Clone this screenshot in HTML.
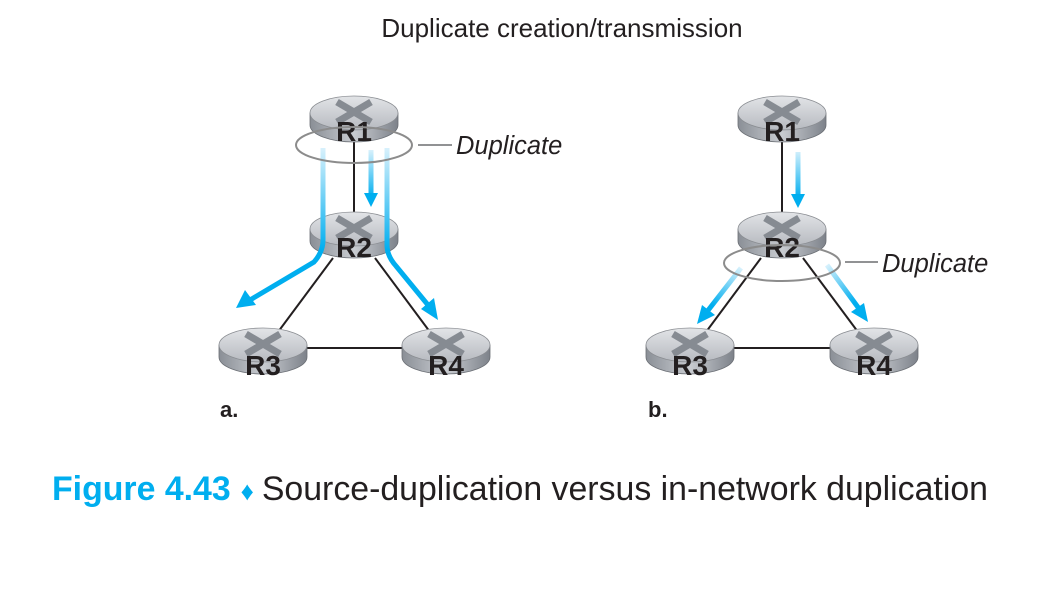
<!DOCTYPE html>
<html><head><style>
body{margin:0;background:#fff;width:1056px;height:591px;overflow:hidden}
svg{display:block}
</style></head><body>
<svg width="1056" height="591" viewBox="0 0 1056 591" xmlns="http://www.w3.org/2000/svg">
<defs>
<linearGradient id="body" x1="0" x2="1" y1="0" y2="0">
<stop offset="0" stop-color="#8a8f96"/><stop offset="0.5" stop-color="#c9ccd1"/><stop offset="1" stop-color="#7d828a"/>
</linearGradient>
<linearGradient id="top" x1="0" x2="0" y1="0" y2="1">
<stop offset="0" stop-color="#e2e4e7"/><stop offset="1" stop-color="#b7bac0"/>
</linearGradient>
<g id="rt">
<path d="M-44,0 L-44,12 A44,17 0 0 0 44,12 L44,0 Z" fill="url(#body)" stroke="#6a6e74" stroke-width="0.8"/>
<ellipse cx="0" cy="0" rx="44" ry="17" fill="url(#top)" stroke="#8a8d92" stroke-width="0.8"/>
<path d="M-17,-11 L17,9 M17,-11 L-17,9" stroke="#868b92" stroke-width="7"/>
</g>
<linearGradient id="gva" gradientUnits="userSpaceOnUse" x1="0" y1="148" x2="0" y2="250">
<stop offset="0" stop-color="#d8f1fc"/><stop offset="1" stop-color="#00aeef"/>
</linearGradient>
<linearGradient id="gm" gradientUnits="userSpaceOnUse" x1="0" y1="150" x2="0" y2="198">
<stop offset="0" stop-color="#d8f1fc"/><stop offset="1" stop-color="#00aeef"/>
</linearGradient>
<linearGradient id="gbl" gradientUnits="userSpaceOnUse" x1="741" y1="268" x2="712" y2="305">
<stop offset="0" stop-color="#d8f1fc"/><stop offset="1" stop-color="#00aeef"/>
</linearGradient>
<linearGradient id="gbr" gradientUnits="userSpaceOnUse" x1="827" y1="265" x2="855" y2="302">
<stop offset="0" stop-color="#d8f1fc"/><stop offset="1" stop-color="#00aeef"/>
</linearGradient>
</defs>

<text x="562" y="37" text-anchor="middle" font-family="Liberation Sans, sans-serif" font-size="26" fill="#231f20">Duplicate creation/transmission</text>

<g stroke="#231f20" stroke-width="2">
<line x1="354" y1="140" x2="354" y2="214"/>
<line x1="333" y1="258" x2="278" y2="332"/>
<line x1="375" y1="258" x2="430" y2="332"/>
<line x1="300" y1="348" x2="410" y2="348"/>
<line x1="782" y1="140" x2="782" y2="214"/>
<line x1="761" y1="258" x2="706" y2="332"/>
<line x1="803" y1="258" x2="858" y2="332"/>
<line x1="728" y1="348" x2="838" y2="348"/>
</g>

<use href="#rt" x="354" y="113"/>
<use href="#rt" x="354" y="229"/>
<use href="#rt" x="263" y="345"/>
<use href="#rt" x="446" y="345"/>
<use href="#rt" x="782" y="113"/>
<use href="#rt" x="782" y="229"/>
<use href="#rt" x="690" y="345"/>
<use href="#rt" x="874" y="345"/>

<g font-family="Liberation Sans, sans-serif" font-weight="bold" font-size="28" fill="#231f20" text-anchor="middle">
<text x="354" y="141">R1</text><text x="354" y="257">R2</text>
<text x="263" y="375">R3</text><text x="446" y="375">R4</text>
<text x="782" y="141">R1</text><text x="782" y="257">R2</text>
<text x="690" y="375">R3</text><text x="874" y="375">R4</text>
</g>

<g fill="none" stroke-width="5">
<path d="M323,148 L323,240 Q323,252 314,262 L250,300" stroke="url(#gva)"/>
<path d="M387,148 L387,245 Q387,256 396,266 L428,305" stroke="url(#gva)"/>
<path d="M371,150 L371,196" stroke="url(#gm)"/>
<path d="M798,152 L798,196" stroke="url(#gm)"/>
<path d="M741,268 L706,313" stroke="url(#gbl)"/>
<path d="M827,265 L860,310" stroke="url(#gbr)"/>
</g>
<g fill="#00aeef">
<polygon points="364,193 378,193 371,207"/>
<polygon points="236,308 245,290 256,305"/>
<polygon points="438,320 421,309 434,298"/>
<polygon points="791,194 805,194 798,208"/>
<polygon points="697,324 702,305 715,315"/>
<polygon points="868,322 851,312 864,303"/>
</g>

<ellipse cx="354" cy="145" rx="58" ry="18" fill="none" stroke="#8c8c8c" stroke-width="2"/>
<line x1="418" y1="145" x2="452" y2="145" stroke="#6d6e71" stroke-width="1.5"/>
<ellipse cx="782" cy="263" rx="58" ry="18" fill="none" stroke="#8c8c8c" stroke-width="2"/>
<line x1="845" y1="262" x2="878" y2="262" stroke="#6d6e71" stroke-width="1.5"/>
<g font-family="Liberation Sans, sans-serif" font-style="italic" font-size="25.5" fill="#231f20">
<text x="456" y="154">Duplicate</text>
<text x="882" y="272">Duplicate</text>
</g>

<g font-family="Liberation Sans, sans-serif" font-weight="bold" font-size="22" fill="#231f20">
<text x="220" y="417">a.</text>
<text x="648" y="417">b.</text>
</g>

<text x="52" y="500" font-family="Liberation Sans, sans-serif" font-size="34" fill="#231f20" textLength="936" lengthAdjust="spacingAndGlyphs"><tspan font-weight="bold" fill="#00aeef">Figure 4.43</tspan><tspan fill="#00aeef" font-size="26" dx="10">♦</tspan><tspan dx="8">Source-duplication versus in-network duplication</tspan></text>
</svg>
</body></html>
